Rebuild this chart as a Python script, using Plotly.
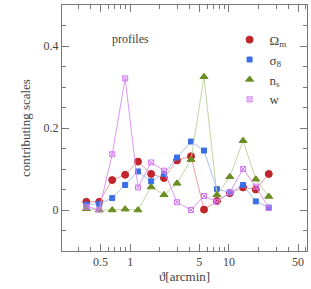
import plotly.graph_objects as go

theta = [0.36, 0.486, 0.658, 0.89, 1.2, 1.63, 2.2, 2.98, 4.13, 5.59, 7.56, 10.2, 13.9, 18.7, 25.3]
omega_m = [0.020, 0.020, 0.073, 0.086, 0.118, 0.088, 0.078, 0.121, 0.131, 0.001, 0.022, 0.041, 0.055, 0.050, 0.088]
sigma_8 = [0.013, 0.015, 0.029, 0.061, 0.094, 0.070, 0.088, 0.128, 0.167, 0.145, 0.051, 0.043, 0.061, 0.021, 0.006]
n_s = [0.003, 0.000, 0.000, 0.002, 0.000, 0.056, 0.037, 0.065, 0.123, 0.325, 0.037, 0.081, 0.169, 0.075, 0.033]
w = [0.008, 0.001, 0.136, 0.321, 0.055, 0.116, 0.096, 0.019, 0.000, 0.034, 0.020, 0.043, 0.100, 0.057, 0.005]

names = ["Ω<sub>m</sub>", "σ<sub>8</sub>", "n<sub>s</sub>", "w"]
x_tickvals = [0.5, 1, 5, 10, 50]
x_ticktext = ["0.5", "1", "5", "10", "50"]
x_minor = [0.2, 0.3, 0.4, 0.6, 0.7, 0.8, 0.9, 2, 3, 4, 6, 7, 8, 9, 20, 30, 40, 60]
y_tickvals = [0, 0.2, 0.4]
y_ticktext = ["0", "0.2", "0.4"]

styles = [
    dict(mc="#c0252b", lc="#eaa0a0", sym="circle", size=7),
    dict(mc="#3b6fe6", lc="#a9c1f2", sym="square", size=5),
    dict(mc="#6b8e23", lc="#c5d4a6", sym="triangle-up", size=7),
    dict(mc="#d478f2", lc="#dc98f6", sym="square-x-open", size=5),
]

FONT = "Liberation Serif, DejaVu Serif, serif"
fig = go.Figure()
for ys, st in zip([omega_m, sigma_8, n_s, w], styles):
    fig.add_trace(go.Scatter(
        x=theta, y=ys, mode="lines+markers", showlegend=False,
        line=dict(color=st["lc"], width=1),
        marker=dict(color=st["mc"], symbol=st["sym"], size=st["size"],
                    line=dict(width=1, color=st["mc"]))))
for nm, st in zip(names, styles):
    fig.add_trace(go.Scatter(
        x=[None], y=[None], mode="markers", name=nm,
        marker=dict(color=st["mc"], symbol=st["sym"], size=st["size"],
                    line=dict(width=1, color=st["mc"]))))

axcommon = dict(showgrid=False, zeroline=False, showline=True, linecolor="#777",
                linewidth=1, mirror="allticks", ticks="inside", tickcolor="#777",
                automargin=False,
                tickfont=dict(family=FONT, size=12, color="#444"))

fig.update_layout(
    width=311, height=289,
    margin=dict(l=62, r=4, t=5, b=38),
    paper_bgcolor="white", plot_bgcolor="white",
    font=dict(family=FONT, color="#444"),
    xaxis=dict(type="log", range=[-0.69, 1.79], tickvals=x_tickvals, ticktext=x_ticktext,
               ticklen=7,
               minor=dict(tickvals=x_minor, ticklen=4, ticks="inside", tickcolor="#777"),
               title=dict(text="ϑ[arcmin]", font=dict(family=FONT, size=13, color="#444"), standoff=2),
               **axcommon),
    yaxis=dict(range=[-0.1, 0.5], tickvals=y_tickvals, ticktext=y_ticktext, ticklen=7,
               minor=dict(dtick=0.05, tick0=0, ticklen=4, ticks="inside", tickcolor="#777"),
               title=dict(text="contributing scales", font=dict(family=FONT, size=13, color="#444"), standoff=10),
               **axcommon),
    legend=dict(x=0.684, y=0.92, xanchor="left", yanchor="top", bgcolor="rgba(0,0,0,0)",
                font=dict(family=FONT, size=13, color="#444"), tracegroupgap=0,
                itemwidth=30),
    annotations=[dict(text="profiles", x=0.28, y=0.86, xref="paper", yref="paper",
                      xanchor="center", yanchor="middle", showarrow=False,
                      font=dict(family=FONT, size=12, color="#444"))],
)
fig.write_html("out.html", config={"displayModeBar": False},
               post_script="document.body.style.margin='0';document.body.style.overflow='hidden';")
